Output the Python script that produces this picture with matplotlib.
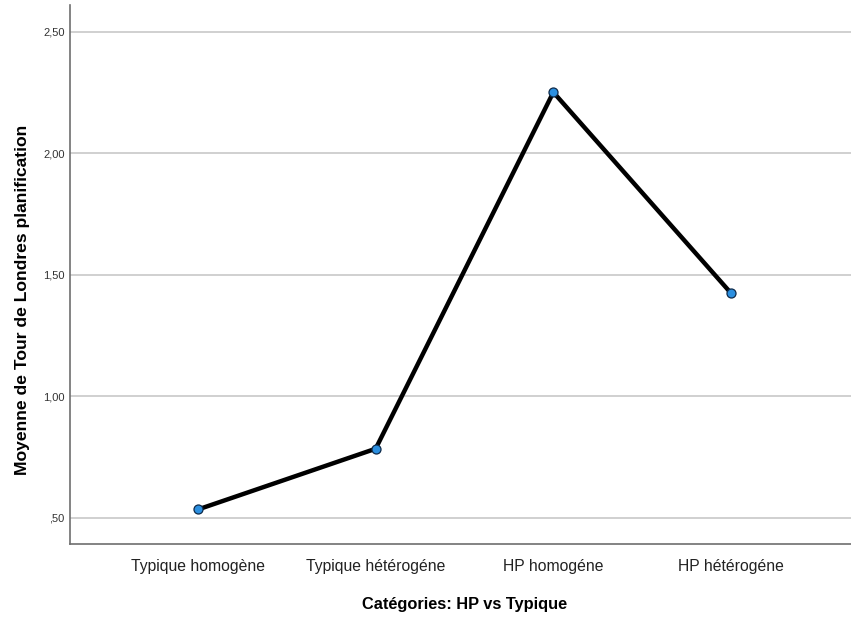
import matplotlib
matplotlib.use("Agg")
import matplotlib.pyplot as plt
from matplotlib.ticker import FixedLocator

categories = ["Typique homogène", "Typique hétérogéne", "HP homogéne", "HP hétérogéne"]
values = [0.535, 0.785, 2.252, 1.425]
yticks = [0.5, 1.0, 1.5, 2.0, 2.5]
ytick_labels = [",50", "1,00", "1,50", "2,00", "2,50"]

plt.rcParams['font.family'] = ['Liberation Sans', 'DejaVu Sans']

fig = plt.figure(figsize=(8.51, 6.23), dpi=100)
W, H = 851, 623
ax = fig.add_axes([70 / W, 1 - 544 / H, (851 - 70) / W, (544 - 5) / H])

x = list(range(len(categories)))
ax.plot(x, values, color='black', linewidth=3.2, zorder=3,
        marker='o', markersize=6.5, markerfacecolor='#2b8fe0',
        markeredgecolor='#0d2a4a', markeredgewidth=0.9)

ax.set_xlim(-0.72, 3.675)
ax.set_ylim(0.393, 2.611)

ax.yaxis.set_major_locator(FixedLocator(yticks))
ax.set_yticklabels(ytick_labels)
ax.set_xticks(x)
ax.set_xticklabels(categories)

ax.grid(axis='y', color='#c8c8c8', linewidth=1.2, zorder=0)
for s in ['top', 'right']:
    ax.spines[s].set_visible(False)
for s in ['left', 'bottom']:
    ax.spines[s].set_color('#6e6e6e')
    ax.spines[s].set_linewidth(1.2)

ax.tick_params(axis='y', length=0, labelsize=8, pad=4, colors='#333333')
ax.tick_params(axis='x', length=0, labelsize=11.3, pad=11, colors='#222222')

ax.set_ylabel("Moyenne de Tour de Londres planification", fontsize=12.6,
              fontweight='bold')
ax.set_xlabel("Catégories: HP vs Typique", fontsize=11.8, fontweight='bold')
ax.yaxis.set_label_coords(-(70 - 23) / (851 - 70), (544 - 300) / (544 - 5))
ax.xaxis.set_label_coords((465 - 70) / (851 - 70), -(604 - 544) / (544 - 5))
ax.xaxis.label.set_va('center')
ax.yaxis.label.set_va('center')

fig.savefig("out.png", dpi=100)
